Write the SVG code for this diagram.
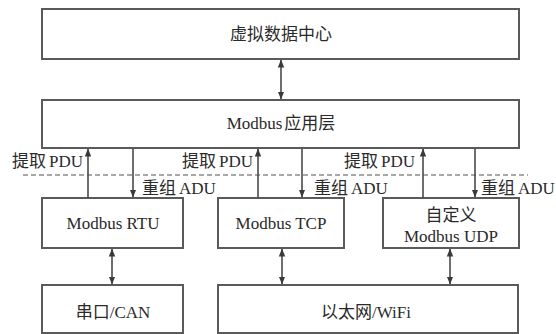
<svg xmlns="http://www.w3.org/2000/svg" width="556" height="334" viewBox="0 0 556 334">
<defs>
<marker id="ah" viewBox="0 0 8 8" refX="7.5" refY="4" markerWidth="8" markerHeight="8" markerUnits="userSpaceOnUse" orient="auto-start-reverse">
<path d="M0,0.8 L8,4 L0,7.2 z" fill="#3a3a3a"/>
</marker>
<style>
.box{fill:#fff;stroke:#5a5a5a;stroke-width:2}
.t{font-family:"Liberation Serif","Noto Sans CJK SC",serif;font-size:17px;fill:#2a2a2a}
.c{text-anchor:middle}
.e{text-anchor:end}
.ln{stroke:#4a4a4a;stroke-width:1.6;fill:none}
.dash{stroke:#8a8a8a;stroke-width:1.6;stroke-dasharray:5 3;fill:none}
</style>
</defs>
<rect width="556" height="334" fill="#fff"/>
<g id="n-vdc"><rect class="box" x="42" y="9" width="477" height="50"/><text class="t c" x="281" y="40">虚拟数据中心</text></g>
<g id="n-app"><rect class="box" x="42" y="100" width="477" height="48"/><text class="t c" x="281" y="129">Modbus<tspan dx="2">应用层</tspan></text></g>
<g id="n-rtu"><rect class="box" x="42" y="198" width="141" height="50"/><text class="t c" x="113" y="229">Modbus RTU</text></g>
<g id="n-tcp"><rect class="box" x="218" y="198" width="126" height="50"/><text class="t c" x="281" y="229">Modbus TCP</text></g>
<g id="n-udp"><rect class="box" x="383" y="198" width="136" height="50"/><text class="t c" x="451" y="221">自定义</text><text class="t c" x="451" y="242">Modbus UDP</text></g>
<g id="n-serial"><rect class="box" x="42" y="285" width="141" height="48"/><text class="t c" x="113" y="318">串口/CAN</text></g>
<g id="n-eth"><rect class="box" x="218" y="285" width="300" height="48"/><text class="t c" x="366" y="318">以太网/WiFi</text></g>
<g id="connectors">
<line class="dash" x1="23" y1="175" x2="528" y2="175"/>
<line class="ln" x1="281" y1="60" x2="281" y2="99" marker-start="url(#ah)" marker-end="url(#ah)"/>
<line class="ln" x1="88" y1="198" x2="88" y2="149" marker-end="url(#ah)"/>
<line class="ln" x1="133" y1="149" x2="133" y2="197" marker-end="url(#ah)"/>
<line class="ln" x1="258" y1="198" x2="258" y2="149" marker-end="url(#ah)"/>
<line class="ln" x1="302" y1="149" x2="302" y2="197" marker-end="url(#ah)"/>
<line class="ln" x1="423" y1="198" x2="423" y2="149" marker-end="url(#ah)"/>
<line class="ln" x1="475" y1="149" x2="475" y2="197" marker-end="url(#ah)"/>
<line class="ln" x1="112" y1="249" x2="112" y2="284" marker-start="url(#ah)" marker-end="url(#ah)"/>
<line class="ln" x1="282" y1="249" x2="282" y2="284" marker-start="url(#ah)" marker-end="url(#ah)"/>
<line class="ln" x1="450" y1="249" x2="450" y2="284" marker-start="url(#ah)" marker-end="url(#ah)"/>
<text class="t e" x="83" y="167">提取<tspan dx="3">PDU</tspan></text>
<text class="t e" x="253" y="167">提取<tspan dx="3">PDU</tspan></text>
<text class="t e" x="415" y="167">提取<tspan dx="3">PDU</tspan></text>
<text class="t" x="142" y="194">重组<tspan dx="3">ADU</tspan></text>
<text class="t" x="314" y="194">重组<tspan dx="3">ADU</tspan></text>
<text class="t" x="481" y="194">重组<tspan dx="3">ADU</tspan></text>
</g>
</svg>
